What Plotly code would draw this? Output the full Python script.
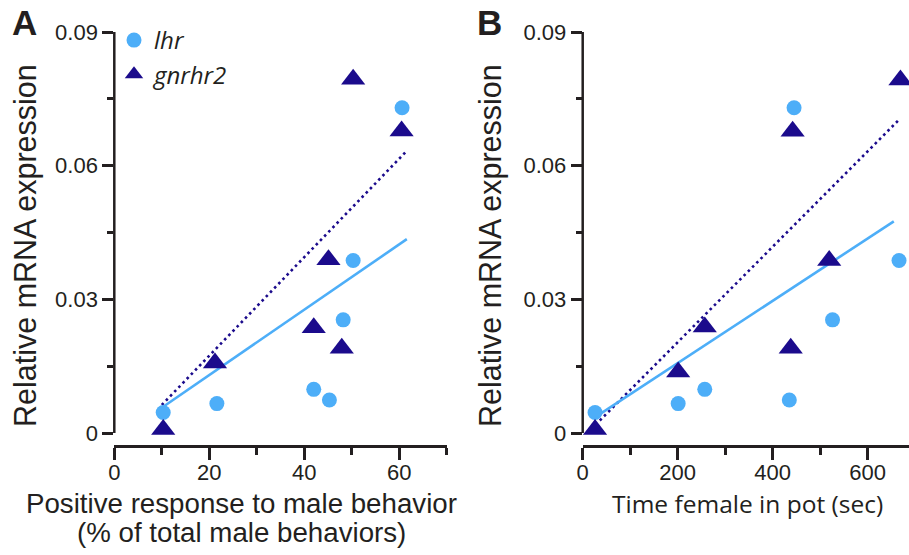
import plotly.graph_objects as go

# Relative mRNA expression per fish
lhr_expr = [0.0046, 0.0066, 0.0098, 0.0074, 0.0254, 0.0387, 0.0730]
gnrhr2_expr_a = [0.0008, 0.0157, 0.0236, 0.0190, 0.0389, 0.0794, 0.0678]
gnrhr2_expr_b = [0.0008, 0.0137, 0.0238, 0.0190, 0.0387, 0.0677, 0.0792]

# Panel A: positive response to male behavior (%)
lhr_resp = [10.3, 21.6, 42.0, 45.3, 48.2, 50.3, 60.6]
gnrhr2_resp = [10.3, 21.2, 42.0, 47.9, 45.1, 50.3, 60.5]

# Panel B: time female in pot (sec)
lhr_time = [26, 201, 257, 435, 526, 666, 445]
gnrhr2_time = [26, 201, 257, 438, 519, 442, 669]

# Regression line end points
fit_lhr_a_x, fit_lhr_a_y = [10.3, 61.6], [0.0059, 0.0435]
fit_gn_a_x, fit_gn_a_y = [10.0, 61.3], [0.0063, 0.0630]
fit_lhr_b_x, fit_lhr_b_y = [33, 655], [0.0040, 0.0475]
fit_gn_b_x, fit_gn_b_y = [36, 666], [0.0028, 0.0703]

x_ticks_a = [0, 20, 40, 60]
x_minor_a = [10, 30, 50, 70]
x_ticks_b = [0, 200, 400, 600]
x_minor_b = [100, 300, 500]
y_ticks = [0, 0.03, 0.06, 0.09]
y_tick_text = ["0", "0.03", "0.06", "0.09"]
y_minor = [0.015, 0.045, 0.075]
y_span = [0, 0.09]

LIGHT = "#4DAEF8"
NAVY = "#1B0B8C"
INK = "#231F20"
W, H = 909, 555

# plot frame in pixels: y = 0 at 433, y = 0.09 at 32, x-axis spine 12 px below zero
Y0_PX, Y09_PX, XAX_PX = 433, 32, 445
y_low = -(XAX_PX - Y0_PX) * 0.09 / (Y0_PX - Y09_PX)


def px(x):
    return x / W


def py(y):
    return 1 - y / H


fig = go.Figure()

for xs_fit_l, ys_fit_l, xs_fit_g, ys_fit_g, xs_l, xs_g, ys_g, ax, first in [
    (fit_lhr_a_x, fit_lhr_a_y, fit_gn_a_x, fit_gn_a_y, lhr_resp, gnrhr2_resp, gnrhr2_expr_a, ("x", "y"), True),
    (fit_lhr_b_x, fit_lhr_b_y, fit_gn_b_x, fit_gn_b_y, lhr_time, gnrhr2_time, gnrhr2_expr_b, ("x2", "y2"), False),
]:
    fig.add_trace(go.Scatter(x=xs_fit_g, y=ys_fit_g, mode="lines", xaxis=ax[0], yaxis=ax[1],
                             line=dict(color=NAVY, width=2.6, dash="2.6px,3.4px"),
                             showlegend=False, hoverinfo="skip"))
    fig.add_trace(go.Scatter(x=xs_fit_l, y=ys_fit_l, mode="lines", xaxis=ax[0], yaxis=ax[1],
                             line=dict(color=LIGHT, width=2.6),
                             showlegend=False, hoverinfo="skip"))
    fig.add_trace(go.Scatter(x=xs_l, y=lhr_expr, mode="markers", xaxis=ax[0], yaxis=ax[1],
                             name="lhr", showlegend=first, cliponaxis=False,
                             marker=dict(symbol="circle", size=15, color=LIGHT, line=dict(width=0))))
    fig.add_trace(go.Scatter(x=xs_g, y=ys_g, mode="markers", xaxis=ax[0], yaxis=ax[1],
                             name="gnrhr2", showlegend=first, cliponaxis=False,
                             marker=dict(symbol="triangle-up", size=21, color=NAVY, line=dict(width=0))))

tick_font = dict(family="Liberation Sans, Arial, sans-serif", size=22, color=INK)
x_common = dict(showline=True, linewidth=2.5, linecolor=INK, showgrid=False, zeroline=False,
                ticks="outside", ticklen=12, tickwidth=2.5, tickcolor=INK, tickfont=tick_font,
                ticklabelstandoff=-6, fixedrange=True)
y_common = dict(showline=False, showgrid=False, zeroline=False,
                ticks="outside", ticklen=11, tickwidth=2.5, tickcolor=INK, tickfont=tick_font,
                tickvals=y_ticks, ticktext=y_tick_text, range=[y_low, 0.09],
                domain=[py(XAX_PX), py(Y09_PX)], fixedrange=True,
                minor=dict(tickvals=y_minor, ticks="outside", ticklen=6, tickwidth=2.5, tickcolor=INK))

fig.update_layout(
    width=W, height=H,
    margin=dict(l=0, r=0, t=0, b=0, autoexpand=False),
    paper_bgcolor="white", plot_bgcolor="white",
    xaxis=dict(domain=[px(114.3), px(446.7)], range=[0, 70], anchor="y",
               tickvals=x_ticks_a,
               minor=dict(tickvals=x_minor_a, ticks="outside", ticklen=7, tickwidth=2.5, tickcolor=INK),
               **x_common),
    yaxis=dict(anchor="x", **y_common),
    xaxis2=dict(domain=[px(582.7), 1.0], range=[0, 687], anchor="y2",
                tickvals=x_ticks_b,
                minor=dict(tickvals=x_minor_b, ticks="outside", ticklen=7, tickwidth=2.5, tickcolor=INK),
                **x_common),
    yaxis2=dict(anchor="x2", **y_common),
    legend=dict(x=px(114), y=py(18), xanchor="left", yanchor="top",
                bgcolor="rgba(0,0,0,0)", itemsizing="trace",
                font=dict(family="Open Sans, sans-serif", size=24, color=INK, style="italic"),
                tracegroupgap=0),
    showlegend=True,
)

# y-axis spines run only from 0 to 0.09
for xr, yr in [("x domain", "y"), ("x2 domain", "y2")]:
    fig.add_shape(type="line", xref=xr, yref=yr, x0=0, x1=0, y0=y_span[0], y1=y_span[1],
                  line=dict(color=INK, width=2.5), layer="above")

title_font = dict(family="Liberation Sans, Arial, sans-serif", size=30.5, color=INK)
letter_font = dict(family="Liberation Sans, Arial, sans-serif", size=35, color=INK)
annotations = [
    dict(text="<b>A</b>", x=px(10), y=py(44), xanchor="left", yanchor="bottom", font=letter_font),
    dict(text="<b>B</b>", x=px(475), y=py(44), xanchor="left", yanchor="bottom", font=letter_font),
    dict(text="Relative mRNA expression", x=px(25), y=py(246), textangle=-90,
         xanchor="center", yanchor="middle", font=title_font),
    dict(text="Relative mRNA expression", x=px(490), y=py(246), textangle=-90,
         xanchor="center", yanchor="middle", font=title_font),
    dict(text="Positive response to male behavior", x=px(241.5), y=py(521), xanchor="center",
         yanchor="bottom", font=dict(family="Liberation Sans, Arial, sans-serif", size=27.7, color=INK)),
    dict(text="(% of total male behaviors)", x=px(241.5), y=py(550), xanchor="center",
         yanchor="bottom", font=dict(family="Liberation Sans, Arial, sans-serif", size=27.7, color=INK)),
    dict(text="Time female in pot (sec)", x=px(747.5), y=py(522), xanchor="center",
         yanchor="bottom", font=dict(family="Open Sans, sans-serif", size=24.5, color=INK)),
]
for a in annotations:
    a.update(xref="paper", yref="paper", showarrow=False)
fig.update_layout(annotations=annotations)

fig.write_html("out.html")
